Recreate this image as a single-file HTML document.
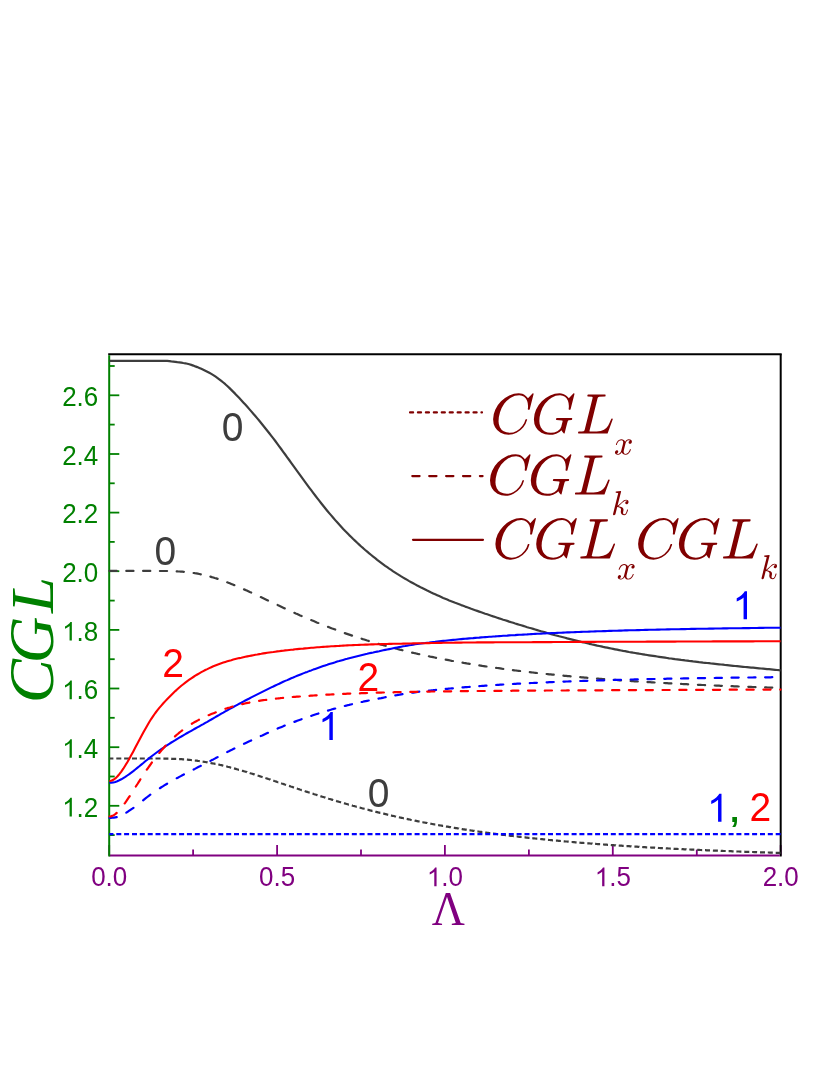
<!DOCTYPE html>
<html><head><meta charset="utf-8"><title>CGL</title>
<style>
html,body{margin:0;padding:0;background:#fff;}
body{width:830px;height:1075px;overflow:hidden;}
svg{display:block;}
.ss{font-family:"Liberation Sans",sans-serif;}
.si{font-family:"Liberation Serif",serif;font-style:italic;}
.sr{font-family:"Liberation Serif",serif;}
</style></head><body>
<svg style="will-change:transform" width="830" height="1075" viewBox="0 0 830 1075">
<rect x="0" y="0" width="830" height="1075" fill="#ffffff"/>
<g>
<line x1="109.2" y1="835.1" x2="114.7" y2="835.1" stroke="#008000" stroke-width="1.8"/>
<line x1="109.2" y1="805.8" x2="119.3" y2="805.8" stroke="#008000" stroke-width="1.8"/>
<line x1="109.2" y1="776.5" x2="114.7" y2="776.5" stroke="#008000" stroke-width="1.8"/>
<line x1="109.2" y1="747.2" x2="119.3" y2="747.2" stroke="#008000" stroke-width="1.8"/>
<line x1="109.2" y1="717.8" x2="114.7" y2="717.8" stroke="#008000" stroke-width="1.8"/>
<line x1="109.2" y1="688.5" x2="119.3" y2="688.5" stroke="#008000" stroke-width="1.8"/>
<line x1="109.2" y1="659.2" x2="114.7" y2="659.2" stroke="#008000" stroke-width="1.8"/>
<line x1="109.2" y1="629.9" x2="119.3" y2="629.9" stroke="#008000" stroke-width="1.8"/>
<line x1="109.2" y1="600.6" x2="114.7" y2="600.6" stroke="#008000" stroke-width="1.8"/>
<line x1="109.2" y1="571.2" x2="119.3" y2="571.2" stroke="#008000" stroke-width="1.8"/>
<line x1="109.2" y1="541.9" x2="114.7" y2="541.9" stroke="#008000" stroke-width="1.8"/>
<line x1="109.2" y1="512.6" x2="119.3" y2="512.6" stroke="#008000" stroke-width="1.8"/>
<line x1="109.2" y1="483.3" x2="114.7" y2="483.3" stroke="#008000" stroke-width="1.8"/>
<line x1="109.2" y1="454.0" x2="119.3" y2="454.0" stroke="#008000" stroke-width="1.8"/>
<line x1="109.2" y1="424.6" x2="114.7" y2="424.6" stroke="#008000" stroke-width="1.8"/>
<line x1="109.2" y1="395.3" x2="119.3" y2="395.3" stroke="#008000" stroke-width="1.8"/>
<line x1="109.2" y1="366.0" x2="114.7" y2="366.0" stroke="#008000" stroke-width="1.8"/>
<line x1="109.2" y1="855.6" x2="109.2" y2="845.1" stroke="#800080" stroke-width="1.8"/>
<line x1="193.1" y1="855.6" x2="193.1" y2="849.6" stroke="#800080" stroke-width="1.8"/>
<line x1="277.1" y1="855.6" x2="277.1" y2="845.1" stroke="#800080" stroke-width="1.8"/>
<line x1="361.0" y1="855.6" x2="361.0" y2="849.6" stroke="#800080" stroke-width="1.8"/>
<line x1="444.9" y1="855.6" x2="444.9" y2="845.1" stroke="#800080" stroke-width="1.8"/>
<line x1="528.9" y1="855.6" x2="528.9" y2="849.6" stroke="#800080" stroke-width="1.8"/>
<line x1="612.8" y1="855.6" x2="612.8" y2="845.1" stroke="#800080" stroke-width="1.8"/>
<line x1="696.8" y1="855.6" x2="696.8" y2="849.6" stroke="#800080" stroke-width="1.8"/>
<line x1="780.7" y1="855.6" x2="780.7" y2="845.1" stroke="#800080" stroke-width="1.8"/>
<line x1="108.2" y1="354.3" x2="781.7" y2="354.3" stroke="#000000" stroke-width="2"/>
<line x1="780.7" y1="354.3" x2="780.7" y2="856.6" stroke="#000000" stroke-width="2"/>
<line x1="109.2" y1="855.6" x2="779.7" y2="855.6" stroke="#800080" stroke-width="2"/>
<line x1="109.2" y1="355.3" x2="109.2" y2="856.6" stroke="#008000" stroke-width="2"/>
</g>
<g stroke-linecap="butt" stroke-linejoin="round">
<path d="M109.3 758.5L110.3 758.5L111.3 758.5L112.3 758.5L113.3 758.5L113.4 758.5M116.3 758.5L116.8 758.5L117.8 758.5L118.8 758.5L119.8 758.5L120.8 758.5L121.3 758.5M124.1 758.5L124.8 758.5L125.8 758.5L126.8 758.5L127.8 758.5L128.8 758.5L129.1 758.5M132.0 758.5L132.8 758.5L133.8 758.5L134.8 758.5L135.8 758.5L136.8 758.5L137.0 758.5M139.8 758.5L140.8 758.5L141.8 758.5L142.8 758.5L143.8 758.5L144.8 758.5L144.8 758.5M147.7 758.5L148.3 758.5L149.3 758.5L150.3 758.5L151.3 758.5L152.3 758.5L152.7 758.5M155.5 758.5L156.3 758.5L157.3 758.5L158.3 758.5L159.3 758.5L160.3 758.5L160.5 758.5M163.4 758.6L164.3 758.6L165.3 758.6L166.3 758.6L167.3 758.6L168.3 758.7L168.4 758.7M171.2 758.7L171.8 758.8L172.8 758.8L173.8 758.8L174.8 758.9L175.8 758.9L176.2 758.9M179.1 759.1L179.8 759.1L180.8 759.2L181.8 759.2L182.8 759.3L183.8 759.4L184.1 759.4M186.9 759.6L187.8 759.7L188.8 759.8L189.8 759.9L190.8 760.0L191.8 760.1L191.9 760.1M194.8 760.5L195.8 760.6L196.8 760.7L197.8 760.9L198.8 761.0L199.8 761.1L199.8 761.1M202.6 761.6L203.3 761.7L204.3 761.8L205.3 762.0L206.3 762.2L207.3 762.3L207.6 762.4M210.5 762.9L211.3 763.1L212.3 763.3L213.3 763.5L214.3 763.7L215.3 763.9L215.5 763.9M218.3 764.5L219.3 764.7L220.3 765.0L221.3 765.2L222.3 765.4L223.3 765.7L223.3 765.7M226.2 766.4L226.8 766.5L227.8 766.8L228.8 767.0L229.8 767.3L230.8 767.6L231.2 767.7M234.0 768.4L234.8 768.6L235.8 768.9L236.8 769.2L237.8 769.5L238.8 769.8L239.0 769.8M241.9 770.7L242.8 770.9L243.8 771.2L244.8 771.5L245.8 771.8L246.8 772.1L246.9 772.2M249.7 773.0L250.3 773.2L251.3 773.5L252.3 773.8L253.3 774.1L254.3 774.4L254.7 774.6M257.6 775.5L258.3 775.7L259.3 776.0L260.3 776.4L261.3 776.7L262.3 777.0L262.6 777.1M265.4 778.0L266.3 778.3L267.3 778.6L268.3 779.0L269.3 779.3L270.3 779.6L270.4 779.7M273.3 780.6L274.3 781.0L275.3 781.3L276.3 781.6L277.2 782.0L278.2 782.3L278.3 782.3M281.1 783.3L281.7 783.5L282.7 783.8L283.7 784.1L284.7 784.5L285.7 784.8L286.1 784.9M289.0 785.9L289.7 786.1L290.7 786.5L291.7 786.8L292.7 787.1L293.7 787.5L294.0 787.6M296.8 788.5L297.7 788.8L298.7 789.1L299.7 789.5L300.7 789.8L301.7 790.1L301.8 790.1M304.7 791.1L305.2 791.3L306.2 791.6L307.2 791.9L308.2 792.2L309.2 792.6L309.7 792.7M312.5 793.6L313.2 793.8L314.2 794.2L315.2 794.5L316.2 794.8L317.2 795.1L317.5 795.2M320.4 796.1L321.2 796.4L322.2 796.7L323.2 797.0L324.2 797.3L325.2 797.6L325.4 797.7M328.2 798.5L328.7 798.7L329.7 799.0L330.7 799.3L331.7 799.6L332.7 799.9L333.2 800.1M336.1 800.9L336.7 801.1L337.7 801.4L338.7 801.7L339.7 802.0L340.7 802.3L341.1 802.4M343.9 803.2L344.7 803.4L345.7 803.7L346.7 804.0L347.7 804.3L348.7 804.6L348.9 804.6M351.8 805.4L352.7 805.7L353.7 806.0L354.7 806.2L355.7 806.5L356.7 806.8L356.8 806.8M359.6 807.6L360.2 807.7L361.2 808.0L362.2 808.3L363.2 808.5L364.2 808.8L364.6 808.9M367.5 809.7L368.2 809.8L369.2 810.1L370.2 810.4L371.2 810.6L372.2 810.9L372.5 810.9M375.3 811.7L376.2 811.9L377.2 812.1L378.2 812.4L379.2 812.6L380.2 812.9L380.3 812.9M383.2 813.6L383.7 813.7L384.7 813.9L385.7 814.2L386.7 814.4L387.7 814.7L388.2 814.8M391.0 815.4L391.7 815.6L392.7 815.8L393.7 816.0L394.7 816.3L395.7 816.5L396.0 816.6M398.9 817.2L399.7 817.4L400.7 817.6L401.7 817.8L402.7 818.0L403.7 818.3L403.9 818.3M406.7 818.9L407.7 819.1L408.7 819.3L409.7 819.5L410.7 819.8L411.7 820.0L411.7 820.0M414.6 820.5L415.2 820.7L416.2 820.9L417.2 821.1L418.2 821.3L419.2 821.5L419.6 821.6M422.4 822.1L423.2 822.3L424.2 822.5L425.2 822.7L426.2 822.8L427.2 823.0L427.4 823.1M430.3 823.6L431.2 823.8L432.2 824.0L433.2 824.2L434.2 824.3L435.2 824.5L435.3 824.5M438.1 825.1L438.7 825.2L439.7 825.3L440.7 825.5L441.7 825.7L442.7 825.9L443.1 825.9M446.0 826.4L446.7 826.6L447.7 826.7L448.7 826.9L449.7 827.1L450.7 827.2L451.0 827.3M453.8 827.8L454.7 827.9L455.7 828.1L456.7 828.2L457.7 828.4L458.7 828.5L458.8 828.6M461.7 829.0L462.2 829.1L463.2 829.3L464.2 829.4L465.2 829.6L466.2 829.7L466.7 829.8M469.5 830.2L470.2 830.3L471.2 830.5L472.2 830.6L473.2 830.8L474.2 830.9L474.5 831.0M477.4 831.4L478.2 831.5L479.2 831.7L480.2 831.8L481.2 831.9L482.2 832.1L482.4 832.1M485.2 832.5L486.2 832.6L487.2 832.8L488.2 832.9L489.2 833.0L490.2 833.2L490.2 833.2M493.1 833.6L493.7 833.6L494.7 833.8L495.7 833.9L496.7 834.0L497.7 834.2L498.1 834.2M500.9 834.6L501.7 834.7L502.7 834.8L503.7 834.9L504.7 835.0L505.7 835.2L505.9 835.2M508.8 835.5L509.7 835.7L510.7 835.8L511.7 835.9L512.7 836.0L513.7 836.1L513.8 836.1M516.6 836.5L517.2 836.5L518.2 836.7L519.2 836.8L520.2 836.9L521.2 837.0L521.6 837.0M524.5 837.4L525.2 837.4L526.2 837.6L527.2 837.7L528.2 837.8L529.2 837.9L529.5 837.9M532.3 838.2L533.2 838.3L534.2 838.4L535.2 838.5L536.2 838.6L537.2 838.7L537.3 838.7M540.2 839.0L541.2 839.1L542.2 839.2L543.2 839.3L544.2 839.4L545.2 839.5L545.2 839.5M548.0 839.8L548.7 839.9L549.7 840.0L550.7 840.1L551.7 840.2L552.7 840.3L553.0 840.3M555.9 840.6L556.7 840.6L557.7 840.7L558.7 840.8L559.7 840.9L560.7 841.0L560.9 841.0M563.7 841.3L564.7 841.4L565.7 841.5L566.7 841.5L567.7 841.6L568.7 841.7L568.7 841.7M571.6 842.0L572.2 842.0L573.2 842.1L574.2 842.2L575.2 842.3L576.2 842.4L576.6 842.4M579.4 842.6L580.2 842.7L581.2 842.8L582.2 842.9L583.2 842.9L584.2 843.0L584.4 843.0M587.3 843.3L588.2 843.3L589.2 843.4L590.2 843.5L591.2 843.6L592.2 843.6L592.3 843.7M595.1 843.9L595.7 843.9L596.7 844.0L597.7 844.1L598.7 844.1L599.7 844.2L600.1 844.2M603.0 844.5L603.7 844.5L604.7 844.6L605.7 844.6L606.7 844.7L607.7 844.8L608.0 844.8M610.8 845.0L611.7 845.1L612.7 845.1L613.6 845.2L614.6 845.3L615.6 845.3L615.8 845.4M618.7 845.5L619.6 845.6L620.6 845.7L621.6 845.7L622.6 845.8L623.6 845.9L623.7 845.9M626.5 846.1L627.1 846.1L628.1 846.2L629.1 846.2L630.1 846.3L631.1 846.3L631.5 846.4M634.4 846.6L635.1 846.6L636.1 846.7L637.1 846.7L638.1 846.8L639.1 846.8L639.4 846.9M642.2 847.0L643.1 847.1L644.1 847.1L645.1 847.2L646.1 847.3L647.1 847.3L647.2 847.3M650.1 847.5L650.6 847.5L651.6 847.6L652.6 847.6L653.6 847.7L654.6 847.7L655.1 847.8M657.9 847.9L658.6 848.0L659.6 848.0L660.6 848.1L661.6 848.1L662.6 848.2L662.9 848.2M665.8 848.3L666.6 848.4L667.6 848.4L668.6 848.5L669.6 848.5L670.6 848.6L670.8 848.6M673.6 848.7L674.1 848.8L675.1 848.8L676.1 848.9L677.1 848.9L678.1 849.0L678.6 849.0M681.5 849.1L682.1 849.2L683.1 849.2L684.1 849.3L685.1 849.3L686.1 849.3L686.5 849.4M689.3 849.5L690.1 849.5L691.1 849.6L692.1 849.6L693.1 849.7L694.1 849.7L694.3 849.7M697.2 849.9L698.1 849.9L699.1 849.9L700.1 850.0L701.1 850.0L702.1 850.1L702.2 850.1M705.0 850.2L705.6 850.2L706.6 850.3L707.6 850.3L708.6 850.3L709.6 850.4L710.0 850.4M712.9 850.5L713.6 850.6L714.6 850.6L715.6 850.6L716.6 850.7L717.6 850.7L717.9 850.7M720.7 850.8L721.6 850.9L722.6 850.9L723.6 851.0L724.6 851.0L725.6 851.0L725.7 851.0M728.6 851.2L729.1 851.2L730.1 851.2L731.1 851.2L732.1 851.3L733.1 851.3L733.6 851.3M736.4 851.4L737.1 851.5L738.1 851.5L739.1 851.5L740.1 851.6L741.1 851.6L741.4 851.6M744.3 851.7L745.1 851.8L746.1 851.8L747.1 851.8L748.1 851.9L749.1 851.9L749.3 851.9M752.1 852.0L753.1 852.0L754.1 852.1L755.1 852.1L756.1 852.1L757.1 852.2L757.1 852.2M760.0 852.3L760.6 852.3L761.6 852.3L762.6 852.3L763.6 852.4L764.6 852.4L765.0 852.4M767.8 852.5L768.6 852.5L769.6 852.6L770.6 852.6L771.6 852.6L772.6 852.7L772.8 852.7M775.7 852.8L776.6 852.8L777.6 852.8L778.6 852.8L779.6 852.9L780.6 852.9" fill="none" stroke="#3d3d3d" stroke-width="2.2" stroke-linecap="butt"/>
<path d="M109.5 570.9L110.8 570.9L112.3 570.9L113.8 570.9L115.3 570.9L116.7 570.9M126.3 570.9L127.8 570.9L129.3 570.9L130.8 570.9L132.3 570.9L133.5 570.9M143.1 570.9L144.3 570.9L145.8 570.9L147.3 570.9L148.8 570.9L150.3 570.9L150.3 570.9M159.9 571.0L161.3 571.0L162.8 571.0L164.3 571.0L165.8 571.0L167.1 571.0M176.7 571.3L177.8 571.4L179.3 571.5L180.8 571.6L182.3 571.7L183.8 571.8L183.9 571.8M193.6 573.0L194.8 573.2L196.3 573.4L197.8 573.7L199.3 574.0L200.8 574.3M210.4 576.6L211.8 577.1L213.3 577.5L214.8 578.0L216.3 578.4L217.6 578.9M227.2 582.3L228.3 582.7L229.8 583.3L231.3 583.9L232.8 584.5L234.3 585.2L234.4 585.2M244.0 589.4L245.3 589.9L246.8 590.6L248.3 591.3L249.8 592.0L251.2 592.6M260.8 597.1L262.3 597.8L263.8 598.5L265.3 599.2L266.8 599.9L268.0 600.5M277.6 605.0L278.7 605.6L280.2 606.3L281.7 607.0L283.2 607.7L284.7 608.4L284.8 608.4M294.4 612.8L295.7 613.4L297.2 614.0L298.7 614.7L300.2 615.4L301.6 616.0M311.2 620.1L312.2 620.5L313.7 621.1L315.2 621.7L316.7 622.4L318.2 623.0L318.4 623.0M328.0 626.9L329.2 627.3L330.7 627.9L332.2 628.5L333.7 629.0L335.2 629.6M344.8 633.1L346.2 633.6L347.7 634.1L349.2 634.6L350.7 635.1L352.0 635.6M361.6 638.7L362.7 639.1L364.2 639.5L365.7 640.0L367.2 640.5L368.7 640.9L368.8 641.0M378.5 643.8L379.7 644.2L381.2 644.6L382.7 645.0L384.2 645.4L385.7 645.8M395.3 648.4L396.7 648.8L398.2 649.2L399.7 649.6L401.2 649.9L402.5 650.3M412.1 652.6L413.2 652.8L414.7 653.2L416.2 653.5L417.7 653.9L419.2 654.2L419.3 654.2M428.9 656.3L430.2 656.6L431.7 656.9L433.2 657.2L434.7 657.5L436.1 657.8M445.7 659.7L447.2 659.9L448.7 660.2L450.2 660.5L451.7 660.8L452.9 661.0M462.5 662.7L463.7 662.9L465.2 663.1L466.7 663.4L468.2 663.6L469.7 663.9L469.7 663.9M479.3 665.4L480.7 665.6L482.2 665.9L483.7 666.1L485.2 666.3L486.5 666.5M496.1 667.9L497.2 668.0L498.7 668.2L500.2 668.4L501.7 668.7L503.2 668.9L503.3 668.9M512.9 670.1L514.2 670.3L515.7 670.5L517.2 670.7L518.7 670.8L520.1 671.0M529.8 672.2L531.2 672.3L532.7 672.5L534.2 672.7L535.7 672.8L536.9 673.0M546.6 674.0L547.7 674.1L549.2 674.3L550.7 674.4L552.2 674.6L553.7 674.7L553.8 674.7M563.4 675.7L564.7 675.8L566.2 675.9L567.7 676.1L569.2 676.2L570.6 676.3M580.2 677.2L581.7 677.3L583.2 677.4L584.7 677.6L586.2 677.7L587.4 677.8M597.0 678.6L598.2 678.7L599.7 678.8L601.2 678.9L602.7 679.0L604.2 679.1L604.2 679.1M613.8 679.8L615.1 679.9L616.6 680.0L618.1 680.2L619.6 680.3L621.0 680.4M630.6 681.0L631.6 681.1L633.1 681.2L634.6 681.3L636.1 681.4L637.6 681.5L637.8 681.5M647.4 682.1L648.6 682.1L650.1 682.2L651.6 682.3L653.1 682.4L654.6 682.5M664.2 683.0L665.6 683.1L667.1 683.2L668.6 683.3L670.1 683.4L671.4 683.4M681.0 683.9L682.1 684.0L683.6 684.1L685.1 684.1L686.6 684.2L688.1 684.3L688.2 684.3M697.9 684.8L699.1 684.8L700.6 684.9L702.1 685.0L703.6 685.0L705.1 685.1M714.7 685.5L716.1 685.6L717.6 685.6L719.1 685.7L720.6 685.8L721.9 685.8M731.5 686.2L732.6 686.2L734.1 686.3L735.6 686.4L737.1 686.4L738.6 686.5L738.7 686.5M748.3 686.8L749.6 686.9L751.1 686.9L752.6 687.0L754.1 687.0L755.5 687.1M765.1 687.4L766.1 687.4L767.6 687.5L769.1 687.5L770.6 687.6L772.1 687.6L772.3 687.6" fill="none" stroke="#3d3d3d" stroke-width="2.2" stroke-linecap="round"/>
<path d="M109.3 360.8L111.3 360.8L113.3 360.8L115.3 360.8L117.3 360.8L119.3 360.8L121.3 360.8L123.3 360.8L125.3 360.8L127.3 360.8L129.3 360.8L131.3 360.8L133.3 360.8L135.3 360.8L137.3 360.8L139.3 360.8L141.3 360.8L143.3 360.8L145.3 360.8L147.3 360.8L149.3 360.8L151.3 360.8L153.3 360.8L155.3 360.8L157.3 360.8L159.3 360.8L161.3 360.8L163.3 360.8L165.3 360.8L167.3 360.9L169.3 361.1L171.3 361.4L173.3 361.6L175.3 361.8L177.3 362.1L179.3 362.3L181.3 362.6L183.3 363.0L185.3 363.3L187.3 363.8L189.3 364.3L191.3 364.9L193.3 365.6L195.3 366.4L197.3 367.1L199.3 367.9L201.3 368.8L203.3 369.7L205.3 370.7L207.3 371.7L209.3 372.8L211.3 373.9L213.3 375.1L215.3 376.4L217.3 377.8L219.3 379.3L221.3 380.9L223.3 382.5L225.3 384.2L227.3 386.0L229.3 387.9L231.3 389.9L233.3 391.9L235.3 393.9L237.3 396.0L239.3 398.1L241.3 400.2L243.3 402.4L245.3 404.6L247.3 406.8L249.3 409.1L251.3 411.4L253.3 413.7L255.3 416.0L257.3 418.4L259.3 420.8L261.3 423.2L263.3 425.7L265.3 428.2L267.3 430.7L269.3 433.2L271.3 435.8L273.3 438.4L275.3 441.0L277.2 443.6L279.2 446.3L281.2 449.0L283.2 451.8L285.2 454.5L287.2 457.3L289.2 460.0L291.2 462.8L293.2 465.6L295.2 468.4L297.2 471.1L299.2 473.9L301.2 476.7L303.2 479.4L305.2 482.1L307.2 484.9L309.2 487.6L311.2 490.2L313.2 492.9L315.2 495.5L317.2 498.1L319.2 500.7L321.2 503.2L323.2 505.7L325.2 508.2L327.2 510.7L329.2 513.1L331.2 515.4L333.2 517.8L335.2 520.1L337.2 522.3L339.2 524.5L341.2 526.7L343.2 528.9L345.2 531.0L347.2 533.0L349.2 535.1L351.2 537.0L353.2 539.0L355.2 540.9L357.2 542.8L359.2 544.6L361.2 546.5L363.2 548.2L365.2 550.0L367.2 551.7L369.2 553.4L371.2 555.0L373.2 556.7L375.2 558.2L377.2 559.8L379.2 561.3L381.2 562.8L383.2 564.3L385.2 565.8L387.2 567.2L389.2 568.6L391.2 569.9L393.2 571.3L395.2 572.6L397.2 573.9L399.2 575.1L401.2 576.4L403.2 577.6L405.2 578.8L407.2 579.9L409.2 581.1L411.2 582.2L413.2 583.3L415.2 584.4L417.2 585.5L419.2 586.5L421.2 587.6L423.2 588.6L425.2 589.6L427.2 590.6L429.2 591.5L431.2 592.5L433.2 593.4L435.2 594.3L437.2 595.2L439.2 596.1L441.2 597.0L443.2 597.9L445.2 598.7L447.2 599.5L449.2 600.4L451.2 601.2L453.2 602.0L455.2 602.8L457.2 603.5L459.2 604.3L461.2 605.1L463.2 605.8L465.2 606.6L467.2 607.3L469.2 608.0L471.2 608.8L473.2 609.5L475.2 610.2L477.2 610.9L479.2 611.6L481.2 612.3L483.2 613.0L485.2 613.7L487.2 614.3L489.2 615.0L491.2 615.7L493.2 616.4L495.2 617.0L497.2 617.7L499.2 618.4L501.2 619.0L503.2 619.7L505.2 620.3L507.2 620.9L509.2 621.6L511.2 622.2L513.2 622.8L515.2 623.5L517.2 624.1L519.2 624.7L521.2 625.3L523.2 625.9L525.2 626.5L527.2 627.2L529.2 627.8L531.2 628.3L533.2 628.9L535.2 629.5L537.2 630.1L539.2 630.7L541.2 631.3L543.2 631.8L545.2 632.4L547.2 633.0L549.2 633.5L551.2 634.1L553.2 634.6L555.2 635.2L557.2 635.7L559.2 636.3L561.2 636.8L563.2 637.3L565.2 637.8L567.2 638.4L569.2 638.9L571.2 639.4L573.2 639.9L575.2 640.4L577.2 640.9L579.2 641.4L581.2 641.9L583.2 642.3L585.2 642.8L587.2 643.3L589.2 643.8L591.2 644.2L593.2 644.7L595.2 645.1L597.2 645.6L599.2 646.0L601.2 646.4L603.2 646.9L605.2 647.3L607.2 647.7L609.2 648.1L611.2 648.5L613.1 648.9L615.1 649.3L617.1 649.7L619.1 650.1L621.1 650.5L623.1 650.9L625.1 651.2L627.1 651.6L629.1 652.0L631.1 652.3L633.1 652.7L635.1 653.0L637.1 653.3L639.1 653.7L641.1 654.0L643.1 654.3L645.1 654.7L647.1 655.0L649.1 655.3L651.1 655.6L653.1 655.9L655.1 656.2L657.1 656.5L659.1 656.8L661.1 657.1L663.1 657.4L665.1 657.7L667.1 658.0L669.1 658.3L671.1 658.5L673.1 658.8L675.1 659.1L677.1 659.3L679.1 659.6L681.1 659.9L683.1 660.1L685.1 660.4L687.1 660.6L689.1 660.9L691.1 661.1L693.1 661.4L695.1 661.6L697.1 661.8L699.1 662.1L701.1 662.3L703.1 662.6L705.1 662.8L707.1 663.0L709.1 663.2L711.1 663.5L713.1 663.7L715.1 663.9L717.1 664.1L719.1 664.3L721.1 664.5L723.1 664.7L725.1 665.0L727.1 665.2L729.1 665.4L731.1 665.6L733.1 665.8L735.1 666.0L737.1 666.2L739.1 666.4L741.1 666.6L743.1 666.8L745.1 667.0L747.1 667.2L749.1 667.4L751.1 667.6L753.1 667.7L755.1 667.9L757.1 668.1L759.1 668.3L761.1 668.5L763.1 668.7L765.1 668.9L767.1 669.1L769.1 669.2L771.1 669.4L773.1 669.6L775.1 669.8L777.1 670.0L779.1 670.2L780.6 670.3" fill="none" stroke="#3d3d3d" stroke-width="2.2"/>
<path d="M109.3 834.2L110.3 834.2L111.3 834.2L112.3 834.2L113.3 834.2L113.4 834.2M116.3 834.2L116.8 834.2L117.8 834.2L118.8 834.2L119.8 834.2L120.8 834.2L121.3 834.2M124.1 834.2L124.8 834.2L125.8 834.2L126.8 834.2L127.8 834.2L128.8 834.2L129.1 834.2M132.0 834.2L132.8 834.2L133.8 834.2L134.8 834.2L135.8 834.2L136.8 834.2L137.0 834.2M139.8 834.2L140.8 834.2L141.8 834.2L142.8 834.2L143.8 834.2L144.8 834.2L144.8 834.2M147.7 834.2L148.3 834.2L149.3 834.2L150.3 834.2L151.3 834.2L152.3 834.2L152.7 834.2M155.5 834.2L156.3 834.2L157.3 834.2L158.3 834.2L159.3 834.2L160.3 834.2L160.5 834.2M163.4 834.2L164.3 834.2L165.3 834.2L166.3 834.2L167.3 834.2L168.3 834.2L168.4 834.2M171.2 834.2L171.8 834.2L172.8 834.2L173.8 834.2L174.8 834.2L175.8 834.2L176.2 834.2M179.1 834.2L179.8 834.2L180.8 834.2L181.8 834.2L182.8 834.2L183.8 834.2L184.1 834.2M186.9 834.2L187.8 834.2L188.8 834.2L189.8 834.2L190.8 834.2L191.8 834.2L191.9 834.2M194.8 834.2L195.8 834.2L196.8 834.2L197.8 834.2L198.8 834.2L199.8 834.2L199.8 834.2M202.6 834.2L203.3 834.2L204.3 834.2L205.3 834.2L206.3 834.2L207.3 834.2L207.6 834.2M210.5 834.2L211.3 834.2L212.3 834.2L213.3 834.2L214.3 834.2L215.3 834.2L215.5 834.2M218.3 834.2L219.3 834.2L220.3 834.2L221.3 834.2L222.3 834.2L223.3 834.2L223.3 834.2M226.2 834.2L226.8 834.2L227.8 834.2L228.8 834.2L229.8 834.2L230.8 834.2L231.2 834.2M234.0 834.2L234.8 834.2L235.8 834.2L236.8 834.2L237.8 834.2L238.8 834.2L239.0 834.2M241.9 834.2L242.8 834.2L243.8 834.2L244.8 834.2L245.8 834.2L246.8 834.2L246.9 834.2M249.7 834.2L250.3 834.2L251.3 834.2L252.3 834.2L253.3 834.2L254.3 834.2L254.7 834.2M257.6 834.2L258.3 834.2L259.3 834.2L260.3 834.2L261.3 834.2L262.3 834.2L262.6 834.2M265.4 834.2L266.3 834.2L267.3 834.2L268.3 834.2L269.3 834.2L270.3 834.2L270.4 834.2M273.3 834.2L274.3 834.2L275.3 834.2L276.3 834.2L277.2 834.2L278.2 834.2L278.3 834.2M281.1 834.2L281.7 834.2L282.7 834.2L283.7 834.2L284.7 834.2L285.7 834.2L286.1 834.2M289.0 834.2L289.7 834.2L290.7 834.2L291.7 834.2L292.7 834.2L293.7 834.2L294.0 834.2M296.8 834.2L297.7 834.2L298.7 834.2L299.7 834.2L300.7 834.2L301.7 834.2L301.8 834.2M304.7 834.2L305.2 834.2L306.2 834.2L307.2 834.2L308.2 834.2L309.2 834.2L309.7 834.2M312.5 834.2L313.2 834.2L314.2 834.2L315.2 834.2L316.2 834.2L317.2 834.2L317.5 834.2M320.4 834.2L321.2 834.2L322.2 834.2L323.2 834.2L324.2 834.2L325.2 834.2L325.4 834.2M328.2 834.2L328.7 834.2L329.7 834.2L330.7 834.2L331.7 834.2L332.7 834.2L333.2 834.2M336.1 834.2L336.7 834.2L337.7 834.2L338.7 834.2L339.7 834.2L340.7 834.2L341.1 834.2M343.9 834.2L344.7 834.2L345.7 834.2L346.7 834.2L347.7 834.2L348.7 834.2L348.9 834.2M351.8 834.2L352.7 834.2L353.7 834.2L354.7 834.2L355.7 834.2L356.7 834.2L356.8 834.2M359.6 834.2L360.2 834.2L361.2 834.2L362.2 834.2L363.2 834.2L364.2 834.2L364.6 834.2M367.5 834.2L368.2 834.2L369.2 834.2L370.2 834.2L371.2 834.2L372.2 834.2L372.5 834.2M375.3 834.2L376.2 834.2L377.2 834.2L378.2 834.2L379.2 834.2L380.2 834.2L380.3 834.2M383.2 834.2L383.7 834.2L384.7 834.2L385.7 834.2L386.7 834.2L387.7 834.2L388.2 834.2M391.0 834.2L391.7 834.2L392.7 834.2L393.7 834.2L394.7 834.2L395.7 834.2L396.0 834.2M398.9 834.2L399.7 834.2L400.7 834.2L401.7 834.2L402.7 834.2L403.7 834.2L403.9 834.2M406.7 834.2L407.7 834.2L408.7 834.2L409.7 834.2L410.7 834.2L411.7 834.2L411.7 834.2M414.6 834.2L415.2 834.2L416.2 834.2L417.2 834.2L418.2 834.2L419.2 834.2L419.6 834.2M422.4 834.2L423.2 834.2L424.2 834.2L425.2 834.2L426.2 834.2L427.2 834.2L427.4 834.2M430.3 834.2L431.2 834.2L432.2 834.2L433.2 834.2L434.2 834.2L435.2 834.2L435.3 834.2M438.1 834.2L438.7 834.2L439.7 834.2L440.7 834.2L441.7 834.2L442.7 834.2L443.1 834.2M446.0 834.2L446.7 834.2L447.7 834.2L448.7 834.2L449.7 834.2L450.7 834.2L451.0 834.2M453.8 834.2L454.7 834.2L455.7 834.2L456.7 834.2L457.7 834.2L458.7 834.2L458.8 834.2M461.7 834.2L462.2 834.2L463.2 834.2L464.2 834.2L465.2 834.2L466.2 834.2L466.7 834.2M469.5 834.2L470.2 834.2L471.2 834.2L472.2 834.2L473.2 834.2L474.2 834.2L474.5 834.2M477.4 834.2L478.2 834.2L479.2 834.2L480.2 834.2L481.2 834.2L482.2 834.2L482.4 834.2M485.2 834.2L486.2 834.2L487.2 834.2L488.2 834.2L489.2 834.2L490.2 834.2L490.2 834.2M493.1 834.2L493.7 834.2L494.7 834.2L495.7 834.2L496.7 834.2L497.7 834.2L498.1 834.2M500.9 834.2L501.7 834.2L502.7 834.2L503.7 834.2L504.7 834.2L505.7 834.2L505.9 834.2M508.8 834.2L509.7 834.2L510.7 834.2L511.7 834.2L512.7 834.2L513.7 834.2L513.8 834.2M516.6 834.2L517.2 834.2L518.2 834.2L519.2 834.2L520.2 834.2L521.2 834.2L521.6 834.2M524.5 834.2L525.2 834.2L526.2 834.2L527.2 834.2L528.2 834.2L529.2 834.2L529.5 834.2M532.3 834.2L533.2 834.2L534.2 834.2L535.2 834.2L536.2 834.2L537.2 834.2L537.3 834.2M540.2 834.2L541.2 834.2L542.2 834.2L543.2 834.2L544.2 834.2L545.2 834.2L545.2 834.2M548.0 834.2L548.7 834.2L549.7 834.2L550.7 834.2L551.7 834.2L552.7 834.2L553.0 834.2M555.9 834.2L556.7 834.2L557.7 834.2L558.7 834.2L559.7 834.2L560.7 834.2L560.9 834.2M563.7 834.2L564.7 834.2L565.7 834.2L566.7 834.2L567.7 834.2L568.7 834.2L568.7 834.2M571.6 834.2L572.2 834.2L573.2 834.2L574.2 834.2L575.2 834.2L576.2 834.2L576.6 834.2M579.4 834.2L580.2 834.2L581.2 834.2L582.2 834.2L583.2 834.2L584.2 834.2L584.4 834.2M587.3 834.2L588.2 834.2L589.2 834.2L590.2 834.2L591.2 834.2L592.2 834.2L592.3 834.2M595.1 834.2L595.7 834.2L596.7 834.2L597.7 834.2L598.7 834.2L599.7 834.2L600.1 834.2M603.0 834.2L603.7 834.2L604.7 834.2L605.7 834.2L606.7 834.2L607.7 834.2L608.0 834.2M610.8 834.2L611.7 834.2L612.7 834.2L613.6 834.2L614.6 834.2L615.6 834.2L615.8 834.2M618.7 834.2L619.6 834.2L620.6 834.2L621.6 834.2L622.6 834.2L623.6 834.2L623.7 834.2M626.5 834.2L627.1 834.2L628.1 834.2L629.1 834.2L630.1 834.2L631.1 834.2L631.5 834.2M634.4 834.2L635.1 834.2L636.1 834.2L637.1 834.2L638.1 834.2L639.1 834.2L639.4 834.2M642.2 834.2L643.1 834.2L644.1 834.2L645.1 834.2L646.1 834.2L647.1 834.2L647.2 834.2M650.1 834.2L650.6 834.2L651.6 834.2L652.6 834.2L653.6 834.2L654.6 834.2L655.1 834.2M657.9 834.2L658.6 834.2L659.6 834.2L660.6 834.2L661.6 834.2L662.6 834.2L662.9 834.2M665.8 834.2L666.6 834.2L667.6 834.2L668.6 834.2L669.6 834.2L670.6 834.2L670.8 834.2M673.6 834.2L674.1 834.2L675.1 834.2L676.1 834.2L677.1 834.2L678.1 834.2L678.6 834.2M681.5 834.2L682.1 834.2L683.1 834.2L684.1 834.2L685.1 834.2L686.1 834.2L686.5 834.2M689.3 834.2L690.1 834.2L691.1 834.2L692.1 834.2L693.1 834.2L694.1 834.2L694.3 834.2M697.2 834.2L698.1 834.2L699.1 834.2L700.1 834.2L701.1 834.2L702.1 834.2L702.2 834.2M705.0 834.2L705.6 834.2L706.6 834.2L707.6 834.2L708.6 834.2L709.6 834.2L710.0 834.2M712.9 834.2L713.6 834.2L714.6 834.2L715.6 834.2L716.6 834.2L717.6 834.2L717.9 834.2M720.7 834.2L721.6 834.2L722.6 834.2L723.6 834.2L724.6 834.2L725.6 834.2L725.7 834.2M728.6 834.2L729.1 834.2L730.1 834.2L731.1 834.2L732.1 834.2L733.1 834.2L733.6 834.2M736.4 834.2L737.1 834.2L738.1 834.2L739.1 834.2L740.1 834.2L741.1 834.2L741.4 834.2M744.3 834.2L745.1 834.2L746.1 834.2L747.1 834.2L748.1 834.2L749.1 834.2L749.3 834.2M752.1 834.2L753.1 834.2L754.1 834.2L755.1 834.2L756.1 834.2L757.1 834.2L757.1 834.2M760.0 834.2L760.6 834.2L761.6 834.2L762.6 834.2L763.6 834.2L764.6 834.2L765.0 834.2M767.8 834.2L768.6 834.2L769.6 834.2L770.6 834.2L771.6 834.2L772.6 834.2L772.8 834.2M775.7 834.2L776.6 834.2L777.6 834.2L778.6 834.2L779.6 834.2L780.6 834.2" fill="none" stroke="#0000ff" stroke-width="2.2" stroke-linecap="butt"/>
<path d="M109.5 817.8L110.8 817.8L112.3 817.7L113.8 817.6L115.3 817.4L116.7 817.2M126.3 812.6L127.8 811.7L129.3 810.7L130.8 809.7L132.3 808.7L133.5 807.8M143.1 800.4L144.3 799.4L145.8 798.2L147.3 797.0L148.8 795.8L150.3 794.7L150.3 794.7M159.9 788.2L161.3 787.3L162.8 786.4L164.3 785.4L165.8 784.5L167.1 783.7M176.7 778.2L177.8 777.7L179.3 776.9L180.8 776.1L182.3 775.3L183.8 774.5L183.9 774.4M193.6 769.5L194.8 768.9L196.3 768.1L197.8 767.3L199.3 766.6L200.8 765.8M210.4 760.9L211.8 760.1L213.3 759.4L214.8 758.6L216.3 757.8L217.6 757.1M227.2 752.1L228.3 751.6L229.8 750.8L231.3 750.1L232.8 749.3L234.3 748.6L234.4 748.5M244.0 743.8L245.3 743.2L246.8 742.5L248.3 741.8L249.8 741.1L251.2 740.4M260.8 736.0L262.3 735.4L263.8 734.7L265.3 734.0L266.8 733.3L268.0 732.8M277.6 728.6L278.7 728.1L280.2 727.5L281.7 726.9L283.2 726.3L284.7 725.6L284.8 725.6M294.4 721.9L295.7 721.4L297.2 720.8L298.7 720.2L300.2 719.7L301.6 719.2M311.2 715.9L312.2 715.5L313.7 715.0L315.2 714.5L316.7 714.0L318.2 713.6L318.4 713.5M328.0 710.6L329.2 710.2L330.7 709.8L332.2 709.3L333.7 708.9L335.2 708.5M344.8 706.0L346.2 705.6L347.7 705.2L349.2 704.9L350.7 704.5L352.0 704.2M361.6 702.0L362.7 701.8L364.2 701.4L365.7 701.1L367.2 700.8L368.7 700.5L368.8 700.5M378.5 698.6L379.7 698.3L381.2 698.1L382.7 697.8L384.2 697.5L385.7 697.2M395.3 695.4L396.7 695.2L398.2 694.9L399.7 694.7L401.2 694.4L402.5 694.2M412.1 692.7L413.2 692.6L414.7 692.3L416.2 692.1L417.7 691.9L419.2 691.7L419.3 691.7M428.9 690.6L430.2 690.5L431.7 690.3L433.2 690.2L434.7 690.0L436.1 689.9M445.7 688.9L447.2 688.8L448.7 688.6L450.2 688.5L451.7 688.4L452.9 688.3M462.5 687.4L463.7 687.3L465.2 687.2L466.7 687.1L468.2 687.0L469.7 686.9L469.7 686.9M479.3 686.1L480.7 686.0L482.2 685.9L483.7 685.8L485.2 685.7L486.5 685.6M496.1 685.0L497.2 684.9L498.7 684.8L500.2 684.7L501.7 684.6L503.2 684.5L503.3 684.5M512.9 684.0L514.2 683.9L515.7 683.8L517.2 683.7L518.7 683.7L520.1 683.6M529.8 683.1L531.2 683.0L532.7 683.0L534.2 682.9L535.7 682.8L536.9 682.8M546.6 682.3L547.7 682.3L549.2 682.2L550.7 682.1L552.2 682.1L553.7 682.0L553.8 682.0M563.4 681.6L564.7 681.6L566.2 681.5L567.7 681.5L569.2 681.4L570.6 681.4M580.2 681.0L581.7 681.0L583.2 680.9L584.7 680.9L586.2 680.8L587.4 680.8M597.0 680.5L598.2 680.4L599.7 680.4L601.2 680.3L602.7 680.3L604.2 680.3L604.2 680.3M613.8 680.0L615.1 679.9L616.6 679.9L618.1 679.9L619.6 679.8L621.0 679.8M630.6 679.5L631.6 679.5L633.1 679.5L634.6 679.4L636.1 679.4L637.6 679.4L637.8 679.4M647.4 679.1L648.6 679.1L650.1 679.1L651.6 679.1L653.1 679.0L654.6 679.0M664.2 678.8L665.6 678.8L667.1 678.7L668.6 678.7L670.1 678.7L671.4 678.7M681.0 678.5L682.1 678.5L683.6 678.4L685.1 678.4L686.6 678.4L688.1 678.4L688.2 678.4M697.9 678.2L699.1 678.2L700.6 678.2L702.1 678.1L703.6 678.1L705.1 678.1M714.7 678.0L716.1 677.9L717.6 677.9L719.1 677.9L720.6 677.9L721.9 677.9M731.5 677.7L732.6 677.7L734.1 677.7L735.6 677.7L737.1 677.7L738.6 677.6L738.7 677.6M748.3 677.5L749.6 677.5L751.1 677.5L752.6 677.5L754.1 677.4L755.5 677.4M765.1 677.3L766.1 677.3L767.6 677.3L769.1 677.3L770.6 677.3L772.1 677.2L772.3 677.2" fill="none" stroke="#0000ff" stroke-width="2.2" stroke-linecap="round"/>
<path d="M109.3 782.8L111.3 782.7L113.3 782.4L115.3 781.9L117.3 781.2L119.3 780.3L121.3 779.3L123.3 778.1L125.3 776.9L127.3 775.5L129.3 774.1L131.3 772.6L133.3 771.1L135.3 769.5L137.3 767.9L139.3 766.3L141.3 764.6L143.3 763.0L145.3 761.3L147.3 759.7L149.3 758.1L151.3 756.5L153.3 755.0L155.3 753.5L157.3 752.0L159.3 750.6L161.3 749.2L163.3 747.8L165.3 746.4L167.3 745.1L169.3 743.8L171.3 742.5L173.3 741.3L175.3 740.1L177.3 738.8L179.3 737.6L181.3 736.5L183.3 735.3L185.3 734.2L187.3 733.0L189.3 731.9L191.3 730.8L193.3 729.7L195.3 728.5L197.3 727.4L199.3 726.3L201.3 725.2L203.3 724.1L205.3 722.9L207.3 721.8L209.3 720.6L211.3 719.5L213.3 718.3L215.3 717.2L217.3 716.0L219.3 714.9L221.3 713.7L223.3 712.6L225.3 711.4L227.3 710.3L229.3 709.2L231.3 708.1L233.3 707.0L235.3 705.9L237.3 704.8L239.3 703.7L241.3 702.7L243.3 701.6L245.3 700.5L247.3 699.5L249.3 698.5L251.3 697.4L253.3 696.4L255.3 695.4L257.3 694.4L259.3 693.4L261.3 692.4L263.3 691.4L265.3 690.4L267.3 689.4L269.3 688.4L271.3 687.4L273.3 686.5L275.3 685.5L277.2 684.6L279.2 683.7L281.2 682.7L283.2 681.8L285.2 680.9L287.2 680.1L289.2 679.2L291.2 678.3L293.2 677.5L295.2 676.6L297.2 675.8L299.2 675.0L301.2 674.2L303.2 673.4L305.2 672.6L307.2 671.9L309.2 671.1L311.2 670.4L313.2 669.6L315.2 668.9L317.2 668.2L319.2 667.5L321.2 666.8L323.2 666.1L325.2 665.4L327.2 664.8L329.2 664.1L331.2 663.5L333.2 662.9L335.2 662.3L337.2 661.6L339.2 661.1L341.2 660.5L343.2 659.9L345.2 659.3L347.2 658.8L349.2 658.2L351.2 657.7L353.2 657.2L355.2 656.7L357.2 656.2L359.2 655.7L361.2 655.2L363.2 654.7L365.2 654.2L367.2 653.8L369.2 653.3L371.2 652.9L373.2 652.5L375.2 652.0L377.2 651.6L379.2 651.2L381.2 650.7L383.2 650.3L385.2 649.9L387.2 649.5L389.2 649.1L391.2 648.7L393.2 648.3L395.2 647.9L397.2 647.5L399.2 647.1L401.2 646.7L403.2 646.3L405.2 646.0L407.2 645.6L409.2 645.3L411.2 645.0L413.2 644.6L415.2 644.3L417.2 644.0L419.2 643.7L421.2 643.5L423.2 643.2L425.2 643.0L427.2 642.7L429.2 642.5L431.2 642.2L433.2 642.0L435.2 641.8L437.2 641.5L439.2 641.3L441.2 641.1L443.2 640.9L445.2 640.7L447.2 640.5L449.2 640.3L451.2 640.1L453.2 639.9L455.2 639.7L457.2 639.5L459.2 639.3L461.2 639.1L463.2 638.9L465.2 638.8L467.2 638.6L469.2 638.4L471.2 638.2L473.2 638.1L475.2 637.9L477.2 637.7L479.2 637.6L481.2 637.4L483.2 637.3L485.2 637.1L487.2 637.0L489.2 636.8L491.2 636.7L493.2 636.5L495.2 636.4L497.2 636.2L499.2 636.1L501.2 636.0L503.2 635.8L505.2 635.7L507.2 635.6L509.2 635.4L511.2 635.3L513.2 635.2L515.2 635.1L517.2 634.9L519.2 634.8L521.2 634.7L523.2 634.6L525.2 634.5L527.2 634.4L529.2 634.2L531.2 634.1L533.2 634.0L535.2 633.9L537.2 633.8L539.2 633.7L541.2 633.6L543.2 633.5L545.2 633.4L547.2 633.3L549.2 633.2L551.2 633.1L553.2 633.1L555.2 633.0L557.2 632.9L559.2 632.8L561.2 632.7L563.2 632.6L565.2 632.5L567.2 632.4L569.2 632.4L571.2 632.3L573.2 632.2L575.2 632.1L577.2 632.0L579.2 632.0L581.2 631.9L583.2 631.8L585.2 631.7L587.2 631.7L589.2 631.6L591.2 631.5L593.2 631.5L595.2 631.4L597.2 631.3L599.2 631.2L601.2 631.2L603.2 631.1L605.2 631.1L607.2 631.0L609.2 630.9L611.2 630.9L613.1 630.8L615.1 630.7L617.1 630.7L619.1 630.6L621.1 630.6L623.1 630.5L625.1 630.4L627.1 630.4L629.1 630.3L631.1 630.3L633.1 630.2L635.1 630.2L637.1 630.1L639.1 630.1L641.1 630.0L643.1 630.0L645.1 629.9L647.1 629.9L649.1 629.8L651.1 629.8L653.1 629.7L655.1 629.7L657.1 629.6L659.1 629.6L661.1 629.5L663.1 629.5L665.1 629.5L667.1 629.4L669.1 629.4L671.1 629.3L673.1 629.3L675.1 629.3L677.1 629.2L679.1 629.2L681.1 629.1L683.1 629.1L685.1 629.1L687.1 629.0L689.1 629.0L691.1 628.9L693.1 628.9L695.1 628.9L697.1 628.8L699.1 628.8L701.1 628.8L703.1 628.7L705.1 628.7L707.1 628.7L709.1 628.6L711.1 628.6L713.1 628.6L715.1 628.5L717.1 628.5L719.1 628.5L721.1 628.5L723.1 628.4L725.1 628.4L727.1 628.4L729.1 628.3L731.1 628.3L733.1 628.3L735.1 628.2L737.1 628.2L739.1 628.2L741.1 628.2L743.1 628.1L745.1 628.1L747.1 628.1L749.1 628.1L751.1 628.0L753.1 628.0L755.1 628.0L757.1 628.0L759.1 627.9L761.1 627.9L763.1 627.9L765.1 627.8L767.1 627.8L769.1 627.8L771.1 627.8L773.1 627.7L775.1 627.7L777.1 627.7L779.1 627.7L780.6 627.7" fill="none" stroke="#0000ff" stroke-width="2.1"/>
<path d="M109.5 816.5L110.8 816.4L112.3 815.9L113.8 815.1L115.3 814.1L116.7 812.9M124.7 803.4L125.3 802.6L126.3 801.2L127.3 799.7L128.3 798.2L129.3 796.7L129.7 796.2M135.8 786.5L136.8 785.0L137.8 783.5L138.8 781.9L139.8 780.4L140.4 779.3M146.8 769.7L147.8 768.3L148.8 766.9L149.8 765.5L150.8 764.1L151.8 762.7L151.9 762.5M159.3 752.9L160.3 751.8L161.3 750.6L162.3 749.4L163.3 748.3L164.3 747.2L165.3 746.1L165.6 745.7M175.0 736.4L176.3 735.2L177.8 734.0L179.3 732.7L180.8 731.5L182.2 730.4M191.8 723.8L193.3 722.9L194.8 722.0L196.3 721.2L197.8 720.4L199.0 719.7M208.6 715.2L209.8 714.7L211.3 714.1L212.8 713.5L214.3 712.9L215.8 712.3L215.8 712.3M225.4 708.8L226.8 708.4L228.3 707.9L229.8 707.5L231.3 707.0L232.6 706.6M242.2 704.1L243.3 703.9L244.8 703.5L246.3 703.2L247.8 702.9L249.3 702.6L249.4 702.5M259.1 700.8L260.3 700.6L261.8 700.4L263.3 700.2L264.8 700.0L266.3 699.8L266.3 699.8M275.9 698.6L277.2 698.5L278.7 698.3L280.2 698.2L281.7 698.0L283.1 697.9M292.7 697.0L293.7 696.9L295.2 696.8L296.7 696.7L298.2 696.6L299.7 696.5L299.9 696.5M309.5 695.8L310.7 695.7L312.2 695.6L313.7 695.5L315.2 695.4L316.7 695.3M326.3 694.7L327.7 694.7L329.2 694.6L330.7 694.5L332.2 694.4L333.5 694.4M343.1 693.9L344.2 693.9L345.7 693.8L347.2 693.7L348.7 693.7L350.2 693.6L350.3 693.6M359.9 693.3L361.2 693.2L362.7 693.2L364.2 693.1L365.7 693.1L367.1 693.0M376.7 692.7L378.2 692.7L379.7 692.6L381.2 692.6L382.7 692.5L383.9 692.5M393.5 692.3L394.7 692.2L396.2 692.2L397.7 692.2L399.2 692.1L400.7 692.1L400.7 692.1M410.3 691.9L411.7 691.9L413.2 691.8L414.7 691.8L416.2 691.8L417.5 691.8M427.2 691.6L428.2 691.6L429.7 691.6L431.2 691.5L432.7 691.5L434.2 691.5L434.4 691.5M444.0 691.4L445.2 691.4L446.7 691.3L448.2 691.3L449.7 691.3L451.2 691.3M460.8 691.2L462.2 691.2L463.7 691.1L465.2 691.1L466.7 691.1L468.0 691.1M477.6 691.0L478.7 691.0L480.2 691.0L481.7 691.0L483.2 691.0L484.7 691.0L484.8 691.0M494.4 690.9L495.7 690.9L497.2 690.9L498.7 690.8L500.2 690.8L501.6 690.8M511.2 690.8L512.7 690.7L514.2 690.7L515.7 690.7L517.2 690.7L518.4 690.7M528.0 690.6L529.2 690.6L530.7 690.6L532.2 690.6L533.7 690.6L535.2 690.6L535.2 690.6M544.8 690.6L546.2 690.5L547.7 690.5L549.2 690.5L550.7 690.5L552.0 690.5M561.6 690.5L562.7 690.5L564.2 690.5L565.7 690.5L567.2 690.4L568.7 690.4L568.8 690.4M578.4 690.4L579.7 690.4L581.2 690.4L582.7 690.4L584.2 690.4L585.6 690.4M595.3 690.3L596.7 690.3L598.2 690.3L599.7 690.3L601.2 690.3L602.5 690.3M612.1 690.2L613.1 690.2L614.6 690.2L616.1 690.2L617.6 690.2L619.1 690.2L619.3 690.2M628.9 690.2L630.1 690.2L631.6 690.1L633.1 690.1L634.6 690.1L636.1 690.1M645.7 690.1L647.1 690.1L648.6 690.1L650.1 690.1L651.6 690.1L652.9 690.1M662.5 690.0L663.6 690.0L665.1 690.0L666.6 690.0L668.1 690.0L669.6 690.0L669.7 690.0M679.3 689.9L680.6 689.9L682.1 689.9L683.6 689.9L685.1 689.9L686.5 689.9M696.1 689.9L697.1 689.9L698.6 689.9L700.1 689.9L701.6 689.8L703.1 689.8L703.3 689.8M712.9 689.8L714.1 689.8L715.6 689.8L717.1 689.8L718.6 689.8L720.1 689.8L720.1 689.8M729.7 689.7L731.1 689.7L732.6 689.7L734.1 689.7L735.6 689.7L736.9 689.7M746.5 689.7L747.6 689.7L749.1 689.7L750.6 689.7L752.1 689.7L753.6 689.7L753.7 689.7M763.4 689.6L764.6 689.6L766.1 689.6L767.6 689.6L769.1 689.6L770.6 689.6M780.2 689.6L780.6 689.6" fill="none" stroke="#ff0000" stroke-width="2.2" stroke-linecap="round"/>
<path d="M109.3 781.0L111.3 780.7L113.3 779.8L115.3 778.4L117.3 776.5L119.3 774.2L121.3 771.6L123.3 768.7L125.3 765.5L127.3 762.2L129.3 758.7L131.3 755.1L133.3 751.4L135.3 747.6L137.3 743.8L139.3 740.0L141.3 736.2L143.3 732.5L145.3 728.9L147.3 725.4L149.3 722.0L151.3 718.8L153.3 715.8L155.3 713.0L157.3 710.4L159.3 707.9L161.3 705.6L163.3 703.3L165.3 701.1L167.3 699.0L169.3 697.0L171.3 695.0L173.3 693.0L175.3 691.1L177.3 689.3L179.3 687.5L181.3 685.8L183.3 684.2L185.3 682.6L187.3 681.1L189.3 679.7L191.3 678.3L193.3 677.0L195.3 675.7L197.3 674.5L199.3 673.3L201.3 672.2L203.3 671.1L205.3 670.0L207.3 669.1L209.3 668.1L211.3 667.2L213.3 666.3L215.3 665.5L217.3 664.7L219.3 664.0L221.3 663.3L223.3 662.6L225.3 661.9L227.3 661.3L229.3 660.7L231.3 660.2L233.3 659.6L235.3 659.1L237.3 658.6L239.3 658.1L241.3 657.7L243.3 657.2L245.3 656.8L247.3 656.4L249.3 656.0L251.3 655.6L253.3 655.2L255.3 654.8L257.3 654.5L259.3 654.1L261.3 653.8L263.3 653.4L265.3 653.1L267.3 652.8L269.3 652.5L271.3 652.2L273.3 652.0L275.3 651.7L277.2 651.4L279.2 651.2L281.2 650.9L283.2 650.7L285.2 650.4L287.2 650.2L289.2 650.0L291.2 649.8L293.2 649.6L295.2 649.3L297.2 649.1L299.2 648.9L301.2 648.7L303.2 648.6L305.2 648.4L307.2 648.2L309.2 648.0L311.2 647.8L313.2 647.7L315.2 647.5L317.2 647.3L319.2 647.2L321.2 647.0L323.2 646.9L325.2 646.8L327.2 646.6L329.2 646.5L331.2 646.3L333.2 646.2L335.2 646.1L337.2 646.0L339.2 645.9L341.2 645.7L343.2 645.6L345.2 645.5L347.2 645.4L349.2 645.3L351.2 645.2L353.2 645.1L355.2 645.0L357.2 645.0L359.2 644.9L361.2 644.8L363.2 644.7L365.2 644.6L367.2 644.6L369.2 644.5L371.2 644.4L373.2 644.4L375.2 644.3L377.2 644.2L379.2 644.2L381.2 644.1L383.2 644.1L385.2 644.0L387.2 644.0L389.2 643.9L391.2 643.9L393.2 643.8L395.2 643.8L397.2 643.7L399.2 643.7L401.2 643.7L403.2 643.6L405.2 643.6L407.2 643.5L409.2 643.5L411.2 643.5L413.2 643.4L415.2 643.4L417.2 643.3L419.2 643.3L421.2 643.2L423.2 643.2L425.2 643.2L427.2 643.1L429.2 643.1L431.2 643.0L433.2 643.0L435.2 643.0L437.2 642.9L439.2 642.9L441.2 642.9L443.2 642.8L445.2 642.8L447.2 642.8L449.2 642.7L451.2 642.7L453.2 642.7L455.2 642.6L457.2 642.6L459.2 642.6L461.2 642.6L463.2 642.5L465.2 642.5L467.2 642.5L469.2 642.5L471.2 642.5L473.2 642.5L475.2 642.5L477.2 642.4L479.2 642.4L481.2 642.4L483.2 642.4L485.2 642.4L487.2 642.4L489.2 642.4L491.2 642.4L493.2 642.4L495.2 642.3L497.2 642.3L499.2 642.3L501.2 642.3L503.2 642.3L505.2 642.3L507.2 642.3L509.2 642.3L511.2 642.3L513.2 642.2L515.2 642.2L517.2 642.2L519.2 642.2L521.2 642.2L523.2 642.2L525.2 642.2L527.2 642.2L529.2 642.2L531.2 642.2L533.2 642.1L535.2 642.1L537.2 642.1L539.2 642.1L541.2 642.1L543.2 642.1L545.2 642.1L547.2 642.1L549.2 642.1L551.2 642.1L553.2 642.0L555.2 642.0L557.2 642.0L559.2 642.0L561.2 642.0L563.2 642.0L565.2 642.0L567.2 642.0L569.2 642.0L571.2 642.0L573.2 642.0L575.2 641.9L577.2 641.9L579.2 641.9L581.2 641.9L583.2 641.9L585.2 641.9L587.2 641.9L589.2 641.9L591.2 641.9L593.2 641.9L595.2 641.9L597.2 641.8L599.2 641.8L601.2 641.8L603.2 641.8L605.2 641.8L607.2 641.8L609.2 641.8L611.2 641.8L613.1 641.8L615.1 641.8L617.1 641.8L619.1 641.8L621.1 641.7L623.1 641.7L625.1 641.7L627.1 641.7L629.1 641.7L631.1 641.7L633.1 641.7L635.1 641.7L637.1 641.7L639.1 641.7L641.1 641.7L643.1 641.7L645.1 641.7L647.1 641.6L649.1 641.6L651.1 641.6L653.1 641.6L655.1 641.6L657.1 641.6L659.1 641.6L661.1 641.6L663.1 641.6L665.1 641.6L667.1 641.6L669.1 641.6L671.1 641.6L673.1 641.6L675.1 641.6L677.1 641.5L679.1 641.5L681.1 641.5L683.1 641.5L685.1 641.5L687.1 641.5L689.1 641.5L691.1 641.5L693.1 641.5L695.1 641.5L697.1 641.5L699.1 641.5L701.1 641.5L703.1 641.5L705.1 641.5L707.1 641.5L709.1 641.5L711.1 641.5L713.1 641.4L715.1 641.4L717.1 641.4L719.1 641.4L721.1 641.4L723.1 641.4L725.1 641.4L727.1 641.4L729.1 641.4L731.1 641.4L733.1 641.4L735.1 641.4L737.1 641.4L739.1 641.4L741.1 641.4L743.1 641.4L745.1 641.4L747.1 641.4L749.1 641.4L751.1 641.4L753.1 641.4L755.1 641.3L757.1 641.3L759.1 641.3L761.1 641.3L763.1 641.3L765.1 641.3L767.1 641.3L769.1 641.3L771.1 641.3L773.1 641.3L775.1 641.3L777.1 641.3L779.1 641.3L780.6 641.3" fill="none" stroke="#ff0000" stroke-width="2.1"/>
</g>
<g>
<path d="M763 0H583V1147Q518 1085 412.5 1023Q307 961 223 930V1104Q374 1175 487 1276Q600 1377 647 1472H763Z" fill="#008000" transform="matrix(0.01270 0 0 -0.01270 62.16 816.50)"/><text transform="translate(76.62 816.50) scale(1 1.035)" font-size="26.00" fill="#008000" class="ss">.2</text>
<path d="M763 0H583V1147Q518 1085 412.5 1023Q307 961 223 930V1104Q374 1175 487 1276Q600 1377 647 1472H763Z" fill="#008000" transform="matrix(0.01270 0 0 -0.01270 62.16 757.86)"/><text transform="translate(76.62 757.86) scale(1 1.035)" font-size="26.00" fill="#008000" class="ss">.4</text>
<path d="M763 0H583V1147Q518 1085 412.5 1023Q307 961 223 930V1104Q374 1175 487 1276Q600 1377 647 1472H763Z" fill="#008000" transform="matrix(0.01270 0 0 -0.01270 62.16 699.22)"/><text transform="translate(76.62 699.22) scale(1 1.035)" font-size="26.00" fill="#008000" class="ss">.6</text>
<path d="M763 0H583V1147Q518 1085 412.5 1023Q307 961 223 930V1104Q374 1175 487 1276Q600 1377 647 1472H763Z" fill="#008000" transform="matrix(0.01270 0 0 -0.01270 62.16 640.58)"/><text transform="translate(76.62 640.58) scale(1 1.035)" font-size="26.00" fill="#008000" class="ss">.8</text>
<text transform="translate(62.16 581.94) scale(1 1.035)" font-size="26.00" fill="#008000" class="ss">2.0</text>
<text transform="translate(62.16 523.30) scale(1 1.035)" font-size="26.00" fill="#008000" class="ss">2.2</text>
<text transform="translate(62.16 464.66) scale(1 1.035)" font-size="26.00" fill="#008000" class="ss">2.4</text>
<text transform="translate(62.16 406.02) scale(1 1.035)" font-size="26.00" fill="#008000" class="ss">2.6</text>
<text transform="translate(91.13 886.30) scale(1 1.035)" font-size="26.00" fill="#800080" class="ss">0.0</text>
<text transform="translate(259.00 886.30) scale(1 1.035)" font-size="26.00" fill="#800080" class="ss">0.5</text>
<path d="M763 0H583V1147Q518 1085 412.5 1023Q307 961 223 930V1104Q374 1175 487 1276Q600 1377 647 1472H763Z" fill="#800080" transform="matrix(0.01270 0 0 -0.01270 426.88 886.30)"/><text transform="translate(441.34 886.30) scale(1 1.035)" font-size="26.00" fill="#800080" class="ss">.0</text>
<path d="M763 0H583V1147Q518 1085 412.5 1023Q307 961 223 930V1104Q374 1175 487 1276Q600 1377 647 1472H763Z" fill="#800080" transform="matrix(0.01270 0 0 -0.01270 594.75 886.30)"/><text transform="translate(609.21 886.30) scale(1 1.035)" font-size="26.00" fill="#800080" class="ss">.5</text>
<text transform="translate(762.63 886.30) scale(1 1.035)" font-size="26.00" fill="#800080" class="ss">2.0</text>
</g>
<!-- axis titles -->
<text transform="translate(53.17 703.14) rotate(-90) scale(0.6613 0.6313)" font-size="100" fill="#008000" class="si">C</text>
<text transform="translate(53.17 663.35) rotate(-90) scale(0.6450 0.6313)" font-size="100" fill="#008000" class="si">G</text>
<text transform="translate(53.20 612.95) rotate(-90) scale(0.6500 0.6169)" font-size="100" fill="#008000" class="si">L</text>
<text transform="matrix(0.4582 0 0 0.4916 431.74 924.80)" font-size="100" fill="#800080" class="sr">&#923;</text>
<!-- curve labels -->
<g>
<text transform="translate(221.63 440.60) scale(1 1.035)" font-size="39.00" fill="#3d3d3d" class="ss">0</text>
<text transform="translate(154.38 565.30) scale(1 1.035)" font-size="39.00" fill="#3d3d3d" class="ss">0</text>
<text transform="translate(367.83 806.60) scale(1 1.035)" font-size="39.00" fill="#3d3d3d" class="ss">0</text>
<text transform="translate(162.18 677.00) scale(1 1.035)" font-size="39.00" fill="#ff0000" class="ss">2</text>
<text transform="translate(357.48 690.90) scale(1 1.035)" font-size="39.00" fill="#ff0000" class="ss">2</text>
<text transform="translate(749.48 821.30) scale(1 1.035)" font-size="39.00" fill="#ff0000" class="ss">2</text>
<path d="M763 0H583V1147Q518 1085 412.5 1023Q307 961 223 930V1104Q374 1175 487 1276Q600 1377 647 1472H763Z" fill="#0000ff" transform="matrix(0.01904 0 0 -0.01904 318.27 740.00)"/>
<path d="M763 0H583V1147Q518 1085 412.5 1023Q307 961 223 930V1104Q374 1175 487 1276Q600 1377 647 1472H763Z" fill="#0000ff" transform="matrix(0.01904 0 0 -0.01904 732.47 619.30)"/>
<path d="M763 0H583V1147Q518 1085 412.5 1023Q307 961 223 930V1104Q374 1175 487 1276Q600 1377 647 1472H763Z" fill="#0000ff" transform="matrix(0.01904 0 0 -0.01904 706.97 821.70)"/>
<text x="730.0" y="821.7" font-size="33.1" fill="#008000" class="ss" font-weight="bold">,</text>
</g>
<!-- legend -->
<g stroke="#800000" stroke-width="2.2" fill="none" stroke-linecap="round">
<line x1="410" y1="412.4" x2="482" y2="412.4" stroke-dasharray="3.1 4.84"/>
<line x1="412.3" y1="476.1" x2="482.6" y2="476.1" stroke-dasharray="7.3 9.6"/>
<line x1="413" y1="539.8" x2="483" y2="539.8"/>
</g>
<g>
<g fill="#800000"><path d="M299 442Q299 319 346 226Q394 132 484 80Q575 27 698 27Q827 27 946 93Q1066 159 1150 270Q1235 380 1266 504Q1270 516 1282 516H1307Q1315 516 1320 510Q1325 505 1325 498Q1325 496 1323 492Q1288 350 1188 226Q1087 101 947 28Q807 -45 659 -45Q499 -45 372 27Q245 99 174 227Q104 355 104 516Q104 688 181 856Q258 1025 388 1156Q518 1288 684 1366Q851 1444 1022 1444Q1090 1444 1152 1424Q1214 1403 1267 1361Q1320 1319 1354 1264L1516 1440Q1516 1444 1526 1444H1538Q1546 1444 1551 1437Q1556 1430 1556 1423L1417 870Q1417 856 1401 856H1364Q1348 856 1348 879Q1356 924 1356 987Q1356 1087 1322 1176Q1288 1264 1216 1318Q1145 1372 1042 1372Q875 1372 736 1288Q597 1204 500 1068Q404 931 352 764Q299 598 299 442Z" transform="matrix(0.02790 0 0 -0.02790 490.20 433.60)"/><path d="M299 449Q299 322 350 226Q400 131 495 79Q590 27 715 27Q837 27 947 84Q1057 142 1085 250L1130 426Q1131 432 1132 438Q1133 445 1133 449Q1133 470 1120 473Q1069 487 915 487Q895 487 895 514Q901 539 906 549Q911 559 930 559H1458Q1479 559 1479 532Q1478 527 1475 515Q1472 503 1467 495Q1462 487 1452 487Q1384 487 1352 476Q1321 465 1309 418L1264 242L1206 14Q1203 0 1188 0Q1171 0 1139 46Q1107 92 1094 123Q1023 39 904 -3Q785 -45 659 -45Q500 -45 372 27Q245 99 174 227Q104 355 104 516Q104 688 180 856Q257 1023 388 1156Q519 1288 686 1366Q852 1444 1022 1444Q1090 1444 1152 1423Q1215 1402 1268 1360Q1322 1319 1356 1264L1518 1440Q1518 1444 1528 1444H1540Q1548 1444 1554 1438Q1559 1431 1559 1423L1419 870Q1419 856 1403 856H1366Q1350 856 1350 879Q1358 924 1358 985Q1358 1086 1324 1175Q1290 1264 1218 1318Q1146 1372 1042 1372Q877 1372 737 1288Q597 1205 500 1068Q403 931 351 767Q299 603 299 449Z" transform="matrix(0.02790 0 0 -0.02790 530.99 433.60)"/><path d="M96 0Q76 0 76 27Q77 32 80 44Q83 57 88 64Q94 72 102 72Q227 72 276 86Q303 95 315 141L596 1266Q600 1286 600 1294Q600 1316 575 1319Q537 1327 428 1327Q408 1327 408 1354Q415 1380 419 1390Q423 1399 442 1399H1047Q1065 1399 1065 1372Q1062 1351 1058 1339Q1054 1327 1038 1327Q887 1327 836 1317Q786 1308 774 1257L494 133Q485 108 485 88Q485 72 555 72H745Q906 72 1006 136Q1106 200 1154 280Q1202 361 1234 448Q1267 534 1282 537H1300Q1321 537 1321 510L1139 14Q1136 0 1120 0Z" transform="matrix(0.02790 0 0 -0.02790 575.91 433.60)"/>
<path d="M160 59Q196 31 262 31Q326 31 375 92Q424 154 442 227L535 590Q557 689 557 725Q557 776 528 814Q500 852 449 852Q384 852 327 812Q270 771 231 708Q192 646 176 582Q172 569 160 569H135Q119 569 119 588V594Q139 670 187 742Q235 815 304 860Q374 905 453 905Q528 905 588 865Q649 825 674 756Q709 819 764 862Q818 905 883 905Q927 905 973 890Q1019 874 1048 842Q1077 810 1077 762Q1077 710 1044 672Q1010 635 958 635Q925 635 903 656Q881 677 881 709Q881 752 910 784Q940 817 981 823Q944 852 879 852Q813 852 764 791Q716 730 696 655L606 293Q584 211 584 158Q584 106 614 68Q643 31 692 31Q788 31 864 116Q939 200 963 301Q967 313 979 313H1004Q1012 313 1017 308Q1022 302 1022 295Q1022 293 1020 289Q991 167 898 72Q805 -23 688 -23Q613 -23 552 18Q492 58 467 127Q435 67 378 22Q322 -23 258 -23Q214 -23 168 -8Q121 8 92 40Q63 72 63 121Q63 169 96 208Q130 248 180 248Q214 248 237 228Q260 207 260 174Q260 131 232 99Q203 67 160 59Z" transform="matrix(0.01670 0 0 -0.01670 613.90 454.40)"/>
<path d="M299 442Q299 319 346 226Q394 132 484 80Q575 27 698 27Q827 27 946 93Q1066 159 1150 270Q1235 380 1266 504Q1270 516 1282 516H1307Q1315 516 1320 510Q1325 505 1325 498Q1325 496 1323 492Q1288 350 1188 226Q1087 101 947 28Q807 -45 659 -45Q499 -45 372 27Q245 99 174 227Q104 355 104 516Q104 688 181 856Q258 1025 388 1156Q518 1288 684 1366Q851 1444 1022 1444Q1090 1444 1152 1424Q1214 1403 1267 1361Q1320 1319 1354 1264L1516 1440Q1516 1444 1526 1444H1538Q1546 1444 1551 1437Q1556 1430 1556 1423L1417 870Q1417 856 1401 856H1364Q1348 856 1348 879Q1356 924 1356 987Q1356 1087 1322 1176Q1288 1264 1216 1318Q1145 1372 1042 1372Q875 1372 736 1288Q597 1204 500 1068Q404 931 352 764Q299 598 299 442Z" transform="matrix(0.02790 0 0 -0.02790 487.10 494.60)"/><path d="M299 449Q299 322 350 226Q400 131 495 79Q590 27 715 27Q837 27 947 84Q1057 142 1085 250L1130 426Q1131 432 1132 438Q1133 445 1133 449Q1133 470 1120 473Q1069 487 915 487Q895 487 895 514Q901 539 906 549Q911 559 930 559H1458Q1479 559 1479 532Q1478 527 1475 515Q1472 503 1467 495Q1462 487 1452 487Q1384 487 1352 476Q1321 465 1309 418L1264 242L1206 14Q1203 0 1188 0Q1171 0 1139 46Q1107 92 1094 123Q1023 39 904 -3Q785 -45 659 -45Q500 -45 372 27Q245 99 174 227Q104 355 104 516Q104 688 180 856Q257 1023 388 1156Q519 1288 686 1366Q852 1444 1022 1444Q1090 1444 1152 1423Q1215 1402 1268 1360Q1322 1319 1356 1264L1518 1440Q1518 1444 1528 1444H1540Q1548 1444 1554 1438Q1559 1431 1559 1423L1419 870Q1419 856 1403 856H1366Q1350 856 1350 879Q1358 924 1358 985Q1358 1086 1324 1175Q1290 1264 1218 1318Q1146 1372 1042 1372Q877 1372 737 1288Q597 1205 500 1068Q403 931 351 767Q299 603 299 449Z" transform="matrix(0.02790 0 0 -0.02790 527.89 494.60)"/><path d="M96 0Q76 0 76 27Q77 32 80 44Q83 57 88 64Q94 72 102 72Q227 72 276 86Q303 95 315 141L596 1266Q600 1286 600 1294Q600 1316 575 1319Q537 1327 428 1327Q408 1327 408 1354Q415 1380 419 1390Q423 1399 442 1399H1047Q1065 1399 1065 1372Q1062 1351 1058 1339Q1054 1327 1038 1327Q887 1327 836 1317Q786 1308 774 1257L494 133Q485 108 485 88Q485 72 555 72H745Q906 72 1006 136Q1106 200 1154 280Q1202 361 1234 448Q1267 534 1282 537H1300Q1321 537 1321 510L1139 14Q1136 0 1120 0Z" transform="matrix(0.02790 0 0 -0.02790 572.81 494.60)"/>
<path d="M109 37Q109 49 111 55L408 1239Q416 1274 418 1294Q418 1327 285 1327Q264 1327 264 1354Q265 1359 268 1372Q272 1385 278 1392Q283 1399 293 1399L569 1421H575Q575 1419 582 1416Q589 1412 590 1411Q594 1401 594 1395L379 539Q453 570 566 686Q678 803 742 854Q805 905 901 905Q958 905 998 866Q1038 827 1038 770Q1038 734 1023 704Q1008 673 981 654Q954 635 918 635Q885 635 862 656Q840 676 840 709Q840 758 874 792Q909 825 958 825Q938 852 897 852Q836 852 780 817Q723 782 658 716Q592 651 538 596Q484 542 438 514Q559 500 648 450Q737 401 737 299Q737 278 729 246Q711 169 711 123Q711 31 774 31Q848 31 886 112Q925 193 950 301Q954 313 967 313H991Q999 313 1004 308Q1010 303 1010 295Q1010 293 1008 289Q931 -23 770 -23Q712 -23 668 4Q623 31 599 78Q575 124 575 182Q575 215 584 250Q590 274 590 295Q590 374 520 415Q450 456 360 465L256 47Q248 16 225 -4Q202 -23 172 -23Q146 -23 128 -6Q109 12 109 37Z" transform="matrix(0.01670 0 0 -0.01670 611.20 514.80)"/>
<path d="M299 442Q299 319 346 226Q394 132 484 80Q575 27 698 27Q827 27 946 93Q1066 159 1150 270Q1235 380 1266 504Q1270 516 1282 516H1307Q1315 516 1320 510Q1325 505 1325 498Q1325 496 1323 492Q1288 350 1188 226Q1087 101 947 28Q807 -45 659 -45Q499 -45 372 27Q245 99 174 227Q104 355 104 516Q104 688 181 856Q258 1025 388 1156Q518 1288 684 1366Q851 1444 1022 1444Q1090 1444 1152 1424Q1214 1403 1267 1361Q1320 1319 1354 1264L1516 1440Q1516 1444 1526 1444H1538Q1546 1444 1551 1437Q1556 1430 1556 1423L1417 870Q1417 856 1401 856H1364Q1348 856 1348 879Q1356 924 1356 987Q1356 1087 1322 1176Q1288 1264 1216 1318Q1145 1372 1042 1372Q875 1372 736 1288Q597 1204 500 1068Q404 931 352 764Q299 598 299 442Z" transform="matrix(0.02790 0 0 -0.02790 492.50 558.40)"/><path d="M299 449Q299 322 350 226Q400 131 495 79Q590 27 715 27Q837 27 947 84Q1057 142 1085 250L1130 426Q1131 432 1132 438Q1133 445 1133 449Q1133 470 1120 473Q1069 487 915 487Q895 487 895 514Q901 539 906 549Q911 559 930 559H1458Q1479 559 1479 532Q1478 527 1475 515Q1472 503 1467 495Q1462 487 1452 487Q1384 487 1352 476Q1321 465 1309 418L1264 242L1206 14Q1203 0 1188 0Q1171 0 1139 46Q1107 92 1094 123Q1023 39 904 -3Q785 -45 659 -45Q500 -45 372 27Q245 99 174 227Q104 355 104 516Q104 688 180 856Q257 1023 388 1156Q519 1288 686 1366Q852 1444 1022 1444Q1090 1444 1152 1423Q1215 1402 1268 1360Q1322 1319 1356 1264L1518 1440Q1518 1444 1528 1444H1540Q1548 1444 1554 1438Q1559 1431 1559 1423L1419 870Q1419 856 1403 856H1366Q1350 856 1350 879Q1358 924 1358 985Q1358 1086 1324 1175Q1290 1264 1218 1318Q1146 1372 1042 1372Q877 1372 737 1288Q597 1205 500 1068Q403 931 351 767Q299 603 299 449Z" transform="matrix(0.02790 0 0 -0.02790 533.29 558.40)"/><path d="M96 0Q76 0 76 27Q77 32 80 44Q83 57 88 64Q94 72 102 72Q227 72 276 86Q303 95 315 141L596 1266Q600 1286 600 1294Q600 1316 575 1319Q537 1327 428 1327Q408 1327 408 1354Q415 1380 419 1390Q423 1399 442 1399H1047Q1065 1399 1065 1372Q1062 1351 1058 1339Q1054 1327 1038 1327Q887 1327 836 1317Q786 1308 774 1257L494 133Q485 108 485 88Q485 72 555 72H745Q906 72 1006 136Q1106 200 1154 280Q1202 361 1234 448Q1267 534 1282 537H1300Q1321 537 1321 510L1139 14Q1136 0 1120 0Z" transform="matrix(0.02790 0 0 -0.02790 578.21 558.40)"/>
<path d="M160 59Q196 31 262 31Q326 31 375 92Q424 154 442 227L535 590Q557 689 557 725Q557 776 528 814Q500 852 449 852Q384 852 327 812Q270 771 231 708Q192 646 176 582Q172 569 160 569H135Q119 569 119 588V594Q139 670 187 742Q235 815 304 860Q374 905 453 905Q528 905 588 865Q649 825 674 756Q709 819 764 862Q818 905 883 905Q927 905 973 890Q1019 874 1048 842Q1077 810 1077 762Q1077 710 1044 672Q1010 635 958 635Q925 635 903 656Q881 677 881 709Q881 752 910 784Q940 817 981 823Q944 852 879 852Q813 852 764 791Q716 730 696 655L606 293Q584 211 584 158Q584 106 614 68Q643 31 692 31Q788 31 864 116Q939 200 963 301Q967 313 979 313H1004Q1012 313 1017 308Q1022 302 1022 295Q1022 293 1020 289Q991 167 898 72Q805 -23 688 -23Q613 -23 552 18Q492 58 467 127Q435 67 378 22Q322 -23 258 -23Q214 -23 168 -8Q121 8 92 40Q63 72 63 121Q63 169 96 208Q130 248 180 248Q214 248 237 228Q260 207 260 174Q260 131 232 99Q203 67 160 59Z" transform="matrix(0.01670 0 0 -0.01670 616.70 579.20)"/>
<path d="M299 442Q299 319 346 226Q394 132 484 80Q575 27 698 27Q827 27 946 93Q1066 159 1150 270Q1235 380 1266 504Q1270 516 1282 516H1307Q1315 516 1320 510Q1325 505 1325 498Q1325 496 1323 492Q1288 350 1188 226Q1087 101 947 28Q807 -45 659 -45Q499 -45 372 27Q245 99 174 227Q104 355 104 516Q104 688 181 856Q258 1025 388 1156Q518 1288 684 1366Q851 1444 1022 1444Q1090 1444 1152 1424Q1214 1403 1267 1361Q1320 1319 1354 1264L1516 1440Q1516 1444 1526 1444H1538Q1546 1444 1551 1437Q1556 1430 1556 1423L1417 870Q1417 856 1401 856H1364Q1348 856 1348 879Q1356 924 1356 987Q1356 1087 1322 1176Q1288 1264 1216 1318Q1145 1372 1042 1372Q875 1372 736 1288Q597 1204 500 1068Q404 931 352 764Q299 598 299 442Z" transform="matrix(0.02790 0 0 -0.02790 635.20 558.40)"/><path d="M299 449Q299 322 350 226Q400 131 495 79Q590 27 715 27Q837 27 947 84Q1057 142 1085 250L1130 426Q1131 432 1132 438Q1133 445 1133 449Q1133 470 1120 473Q1069 487 915 487Q895 487 895 514Q901 539 906 549Q911 559 930 559H1458Q1479 559 1479 532Q1478 527 1475 515Q1472 503 1467 495Q1462 487 1452 487Q1384 487 1352 476Q1321 465 1309 418L1264 242L1206 14Q1203 0 1188 0Q1171 0 1139 46Q1107 92 1094 123Q1023 39 904 -3Q785 -45 659 -45Q500 -45 372 27Q245 99 174 227Q104 355 104 516Q104 688 180 856Q257 1023 388 1156Q519 1288 686 1366Q852 1444 1022 1444Q1090 1444 1152 1423Q1215 1402 1268 1360Q1322 1319 1356 1264L1518 1440Q1518 1444 1528 1444H1540Q1548 1444 1554 1438Q1559 1431 1559 1423L1419 870Q1419 856 1403 856H1366Q1350 856 1350 879Q1358 924 1358 985Q1358 1086 1324 1175Q1290 1264 1218 1318Q1146 1372 1042 1372Q877 1372 737 1288Q597 1205 500 1068Q403 931 351 767Q299 603 299 449Z" transform="matrix(0.02790 0 0 -0.02790 675.99 558.40)"/><path d="M96 0Q76 0 76 27Q77 32 80 44Q83 57 88 64Q94 72 102 72Q227 72 276 86Q303 95 315 141L596 1266Q600 1286 600 1294Q600 1316 575 1319Q537 1327 428 1327Q408 1327 408 1354Q415 1380 419 1390Q423 1399 442 1399H1047Q1065 1399 1065 1372Q1062 1351 1058 1339Q1054 1327 1038 1327Q887 1327 836 1317Q786 1308 774 1257L494 133Q485 108 485 88Q485 72 555 72H745Q906 72 1006 136Q1106 200 1154 280Q1202 361 1234 448Q1267 534 1282 537H1300Q1321 537 1321 510L1139 14Q1136 0 1120 0Z" transform="matrix(0.02790 0 0 -0.02790 720.91 558.40)"/>
<path d="M109 37Q109 49 111 55L408 1239Q416 1274 418 1294Q418 1327 285 1327Q264 1327 264 1354Q265 1359 268 1372Q272 1385 278 1392Q283 1399 293 1399L569 1421H575Q575 1419 582 1416Q589 1412 590 1411Q594 1401 594 1395L379 539Q453 570 566 686Q678 803 742 854Q805 905 901 905Q958 905 998 866Q1038 827 1038 770Q1038 734 1023 704Q1008 673 981 654Q954 635 918 635Q885 635 862 656Q840 676 840 709Q840 758 874 792Q909 825 958 825Q938 852 897 852Q836 852 780 817Q723 782 658 716Q592 651 538 596Q484 542 438 514Q559 500 648 450Q737 401 737 299Q737 278 729 246Q711 169 711 123Q711 31 774 31Q848 31 886 112Q925 193 950 301Q954 313 967 313H991Q999 313 1004 308Q1010 303 1010 295Q1010 293 1008 289Q931 -23 770 -23Q712 -23 668 4Q623 31 599 78Q575 124 575 182Q575 215 584 250Q590 274 590 295Q590 374 520 415Q450 456 360 465L256 47Q248 16 225 -4Q202 -23 172 -23Q146 -23 128 -6Q109 12 109 37Z" transform="matrix(0.01670 0 0 -0.01670 759.70 578.80)"/></g>
</g>
</svg>
</body></html>
